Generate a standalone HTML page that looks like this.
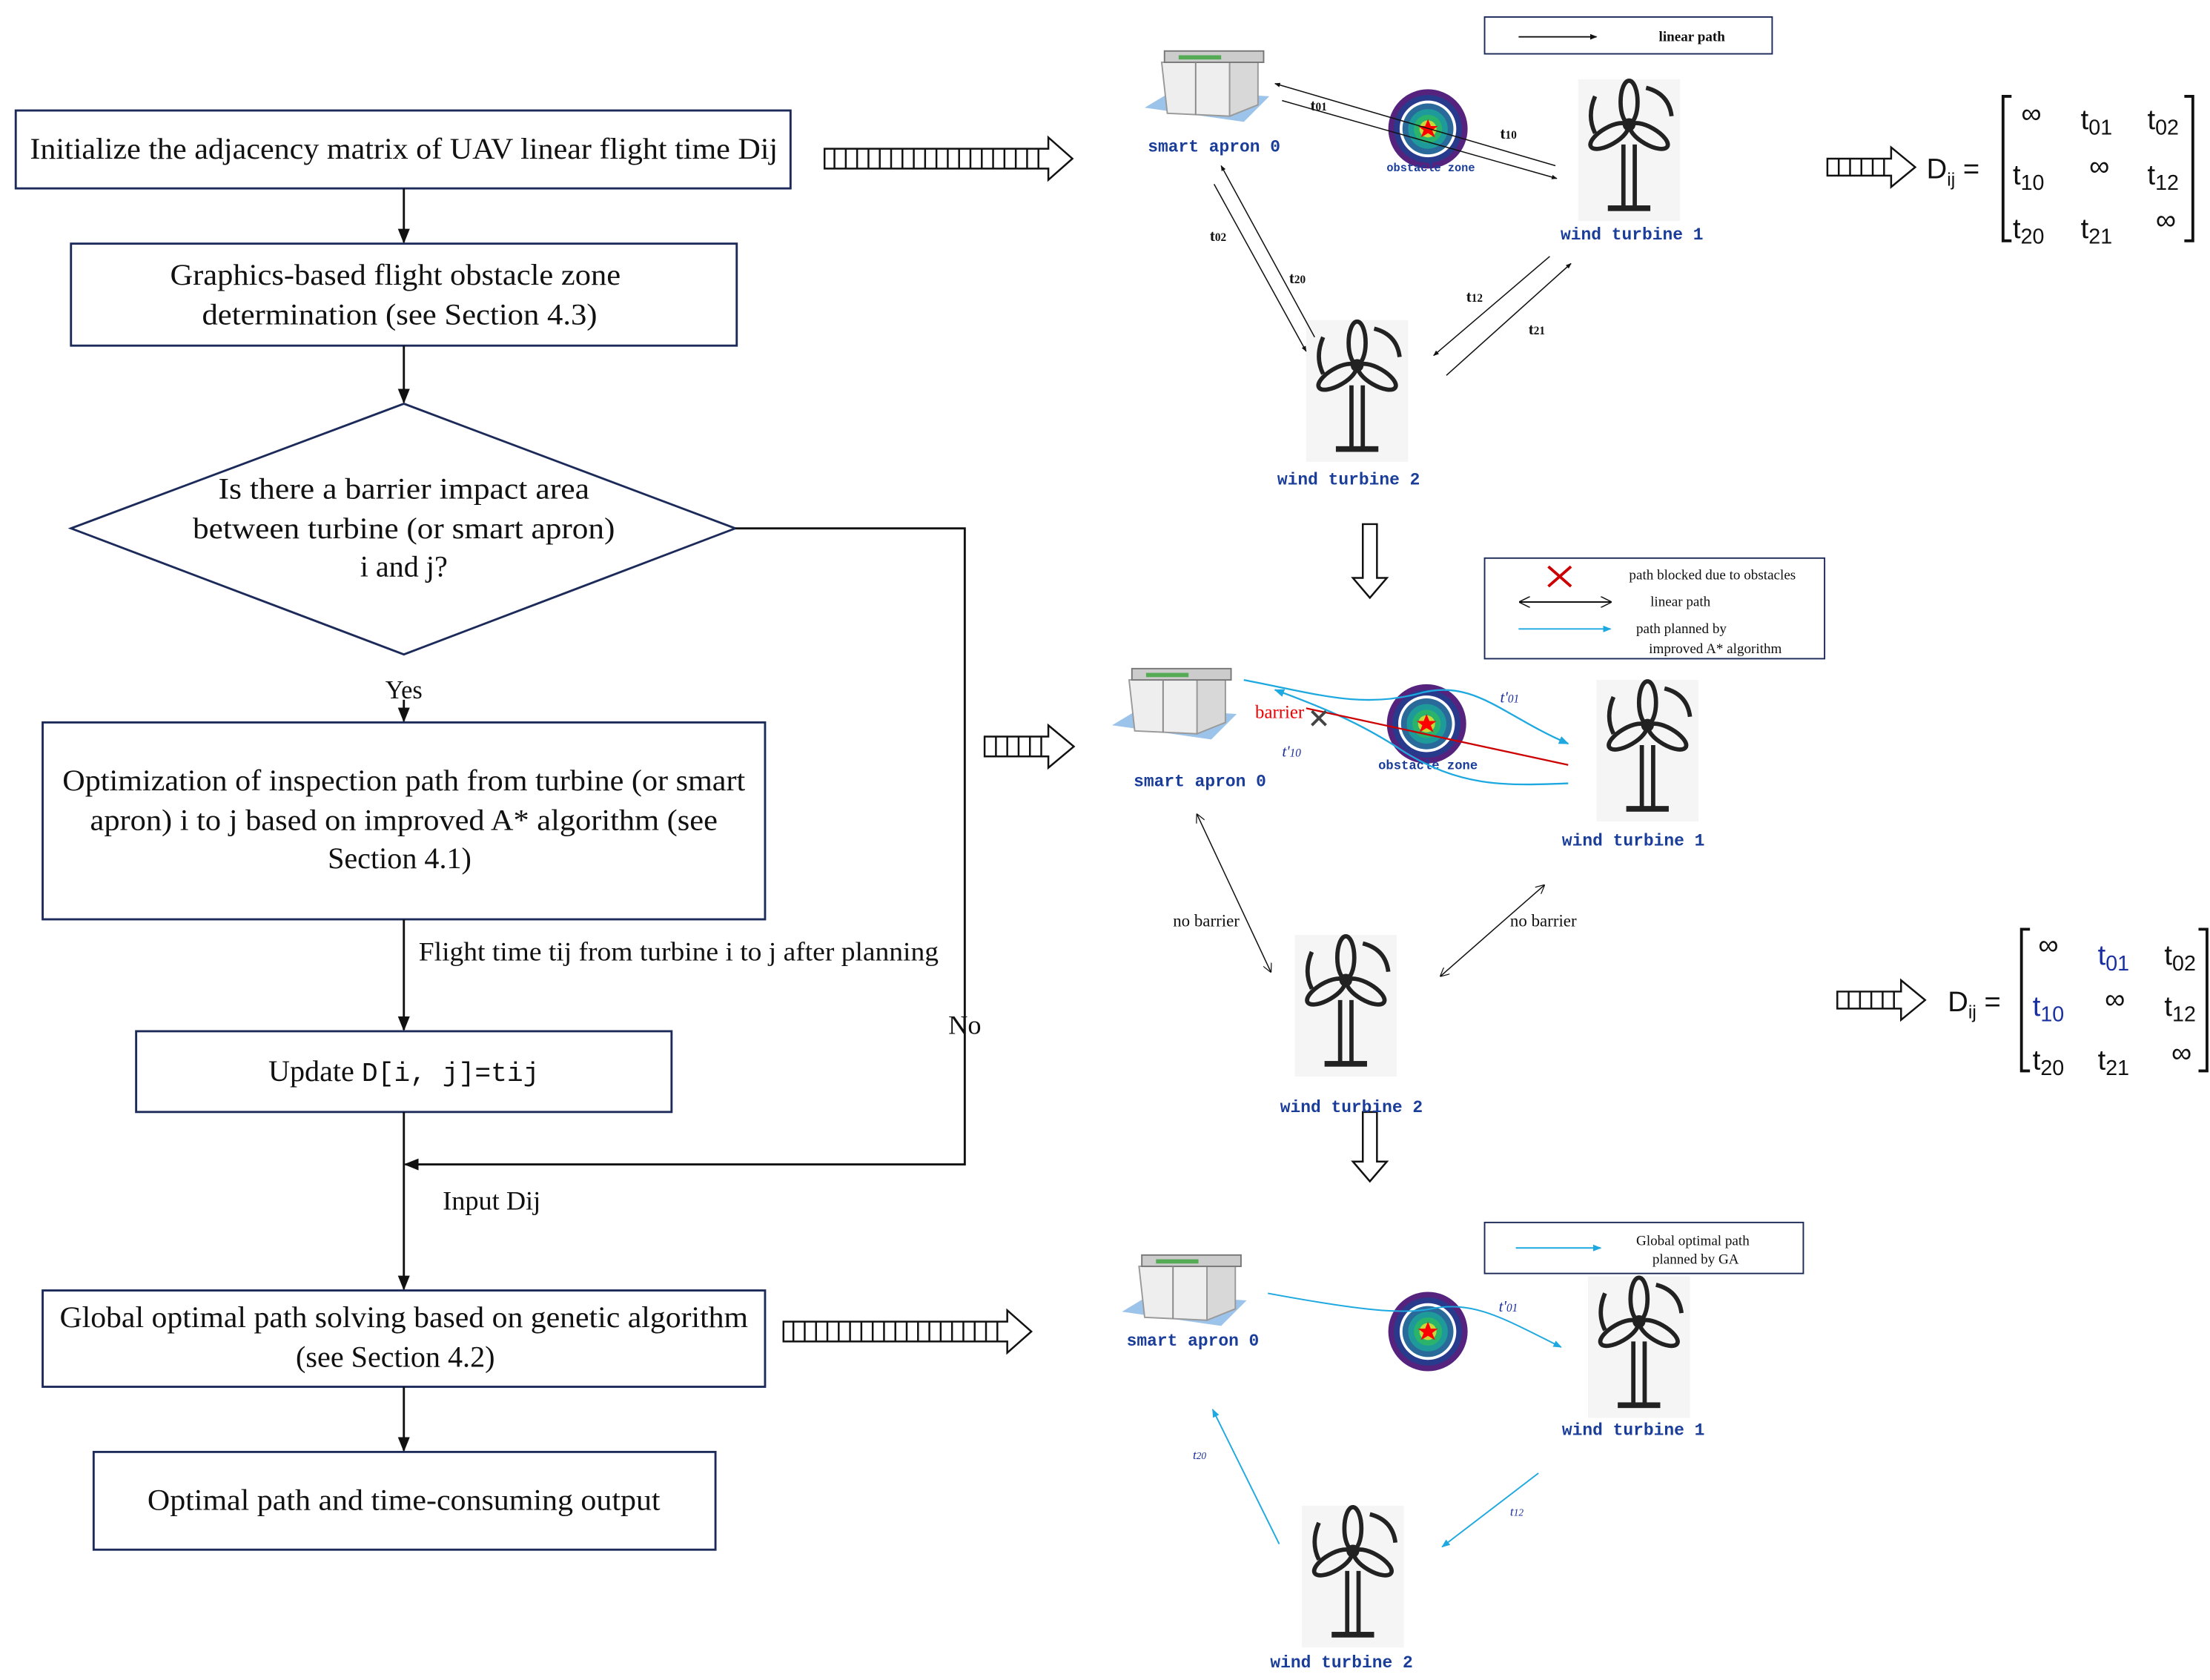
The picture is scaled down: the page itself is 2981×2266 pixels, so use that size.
<!DOCTYPE html>
<html><head><meta charset="utf-8"><style>html,body{margin:0;padding:0;background:#fff}svg{display:block}</style></head>
<body>
<svg width="2981" height="2266" viewBox="0 0 1560 1186" xmlns="http://www.w3.org/2000/svg" font-family="Liberation Serif, serif">
<defs>
<marker id="ah" viewBox="0 0 10 10" refX="9" refY="5" markerWidth="7" markerHeight="7" orient="auto-start-reverse"><path d="M0,1 L10,5 L0,9 z" fill="#111"/></marker>
<marker id="ahs" viewBox="0 0 10 10" refX="9" refY="5" markerWidth="5" markerHeight="5" orient="auto-start-reverse"><path d="M0,1 L10,5 L0,9 z" fill="#111"/></marker>
<marker id="aho" viewBox="0 0 10 10" refX="9" refY="5" markerWidth="8" markerHeight="8" orient="auto-start-reverse"><path d="M0,0 L10,5 L0,10" fill="none" stroke="#111" stroke-width="1"/></marker>
<marker id="ahc" viewBox="0 0 10 10" refX="9" refY="5" markerWidth="6" markerHeight="6" orient="auto-start-reverse"><path d="M0,1 L10,5 L0,9 z" fill="#1ea8e0"/></marker>
<g id="tb">
<rect x="-36" y="-32" width="72" height="100" fill="#f5f5f5"/>
<g fill="none" stroke="#222" stroke-width="3">
<ellipse cx="0" cy="-16" rx="6" ry="15"/>
<ellipse cx="-14" cy="8" rx="6" ry="15" transform="rotate(60 -14 8)"/>
<ellipse cx="14" cy="8" rx="6" ry="15" transform="rotate(-60 14 8)"/>
<circle cx="0" cy="0" r="3"/>
<path d="M-24,-20 Q-30,-6 -24,6"/><path d="M12,-26 Q28,-22 30,-6"/>
<path d="M-4,14 L-4,58 M4,14 L4,58"/>
</g>
<rect x="-15" y="57" width="30" height="4" fill="#222"/>
</g>
<g id="ap">
<polygon points="0,40 20,28 88,32 70,50" fill="#9cc3ea"/>
<polygon points="12,8 60,6 60,46 16,44" fill="#eee" stroke="#999" stroke-width="1"/>
<polygon points="60,6 80,4 80,38 60,46" fill="#d8d8d8" stroke="#999" stroke-width="1"/>
<rect x="14" y="0" width="70" height="8" fill="#ccc" stroke="#777" stroke-width="1"/>
<rect x="24" y="3" width="30" height="3" fill="#5a5"/>
<line x1="36" y1="8" x2="36" y2="45" stroke="#888"/>
</g>
<g id="obs">
<circle r="28" fill="#55237e"/><circle r="24" fill="#283a8c"/><circle r="20" fill="#fff"/><circle r="18" fill="#2a6a9a"/><circle r="14" fill="#1e9a9a"/><circle r="10" fill="#2ab36a"/><circle r="6" fill="#c6d83a"/>
<polygon points="0,-7 2,-2 7,-2 3,1 5,6 0,3 -5,6 -3,1 -7,-2 -2,-2" fill="#f00"/>
</g>
</defs>

<!-- Flowchart -->
<g fill="none" stroke="#1c2a5a" stroke-width="1.5">
<rect x="11" y="78" width="547" height="55"/>
<rect x="50" y="172" width="470" height="72"/>
<polygon points="285,285 519,373 285,462 50,373"/>
<rect x="30" y="510" width="510" height="139"/>
<rect x="96" y="728" width="378" height="57"/>
<rect x="30" y="911" width="510" height="68"/>
<rect x="66" y="1025" width="439" height="69"/>
</g>
<g stroke="#111" stroke-width="1.5" fill="none" marker-end="url(#ah)">
<line x1="285" y1="133" x2="285" y2="171"/>
<line x1="285" y1="244" x2="285" y2="284"/>
<line x1="285" y1="494" x2="285" y2="509"/>
<line x1="285" y1="649" x2="285" y2="727"/>
<line x1="285" y1="785" x2="285" y2="910"/>
<line x1="285" y1="979" x2="285" y2="1024"/>
<polyline points="519,373 681,373 681,822 286,822"/>
</g>
<g font-size="21" fill="#111" text-anchor="middle">
<text x="285" y="112" textLength="528" lengthAdjust="spacingAndGlyphs">Initialize the adjacency matrix of UAV linear flight time Dij</text>
<text x="279" y="201" textLength="318" lengthAdjust="spacingAndGlyphs">Graphics-based flight obstacle zone</text>
<text x="282" y="229" textLength="279" lengthAdjust="spacingAndGlyphs">determination (see Section 4.3)</text>
<text x="285" y="352" textLength="262" lengthAdjust="spacingAndGlyphs">Is there a barrier impact area</text>
<text x="285" y="380" textLength="298" lengthAdjust="spacingAndGlyphs">between turbine (or smart apron)</text>
<text x="285" y="407">i and  j?</text>
<text x="285" y="493" font-size="18">Yes</text>
<text x="285" y="558" textLength="482" lengthAdjust="spacingAndGlyphs">Optimization of inspection path from turbine (or smart</text>
<text x="285" y="586" textLength="443" lengthAdjust="spacingAndGlyphs">apron) i to j based on improved A* algorithm (see</text>
<text x="282" y="613">Section 4.1)</text>
<text x="479" y="678" font-size="19" textLength="367" lengthAdjust="spacingAndGlyphs">Flight time tij from turbine i to j after planning</text>
<text x="285" y="763">Update <tspan font-family="Liberation Mono, monospace" font-size="19">D[i, j]=tij</tspan></text>
<text x="681" y="730" font-size="19">No</text>
<text x="347" y="854" font-size="19">Input Dij</text>
<text x="285" y="937" textLength="486" lengthAdjust="spacingAndGlyphs">Global optimal path solving based on genetic algorithm</text>
<text x="279" y="965">(see Section 4.2)</text>
<text x="285" y="1066" textLength="362" lengthAdjust="spacingAndGlyphs">Optimal path and time-consuming output</text>
</g>

<!-- box-arrows -->
<g stroke="#111" stroke-width="1.3" fill="none">
<path d="M582,105 h158 v-8 l17,15 l-17,15 v-8 h-158 z"/>
<path d="M695,520 h45 v-8 l18,15 l-18,15 v-8 h-45 z"/>
<path d="M553,933 h158 v-8 l17,15 l-17,15 v-8 h-158 z"/>
<path d="M1290,112 h45 v-8 l17,14 l-17,14 v-8 h-45 z"/>
<path d="M1297,700 h45 v-8 l17,14 l-17,14 v-8 h-45 z"/>
<path d="M962,370 v38 h-7 l12,14 l12,-14 h-7 v-38 z"/>
<path d="M962,785 v35 h-7 l12,14 l12,-14 h-7 v-35 z"/>
</g>
<g stroke="#111" stroke-width="1.3">
<path d="M589,105v14M597,105v14M605,105v14M613,105v14M621,105v14M629,105v14M637,105v14M645,105v14M653,105v14M661,105v14M669,105v14M677,105v14M685,105v14M693,105v14M701,105v14M709,105v14M717,105v14M725,105v14M733,105v14"/>
<path d="M560,933v14M568,933v14M576,933v14M584,933v14M592,933v14M600,933v14M608,933v14M616,933v14M624,933v14M632,933v14M640,933v14M648,933v14M656,933v14M664,933v14M672,933v14M680,933v14M688,933v14M696,933v14M704,933v14"/>
<path d="M703,520v14M711,520v14M719,520v14M727,520v14M735,520v14"/>
<path d="M1298,112v12M1306,112v12M1314,112v12M1322,112v12M1330,112v12"/>
<path d="M1305,700v12M1313,700v12M1321,700v12M1329,700v12M1337,700v12"/>
</g>

<!-- matrices -->
<g font-family="Liberation Sans, sans-serif" fill="#111" font-size="20">
<text x="1360" y="126">D<tspan font-size="13" dy="5">ij</tspan><tspan dy="-5"> =</tspan></text>
<path d="M1420,68 h-6 v102 h6 M1542,68 h6 v102 h-6" fill="none" stroke="#111" stroke-width="2"/>
<g text-anchor="middle"><text x="1434" y="87">∞</text><text x="1480" y="91">t<tspan font-size="15" dy="4">01</tspan></text><text x="1527" y="91">t<tspan font-size="15" dy="4">02</tspan></text>
<text x="1432" y="130">t<tspan font-size="15" dy="4">10</tspan></text><text x="1482" y="124">∞</text><text x="1527" y="130">t<tspan font-size="15" dy="4">12</tspan></text>
<text x="1432" y="168">t<tspan font-size="15" dy="4">20</tspan></text><text x="1480" y="168">t<tspan font-size="15" dy="4">21</tspan></text><text x="1529" y="162">∞</text></g>
<text x="1375" y="714">D<tspan font-size="13" dy="5">ij</tspan><tspan dy="-5"> =</tspan></text>
<path d="M1433,656 h-6 v100 h6 M1552,656 h6 v100 h-6" fill="none" stroke="#111" stroke-width="2"/>
<g text-anchor="middle"><text x="1446" y="674">∞</text><text x="1492" y="681" fill="#1a2fa0">t<tspan font-size="15" dy="4">01</tspan></text><text x="1539" y="681">t<tspan font-size="15" dy="4">02</tspan></text>
<text x="1446" y="717" fill="#1a2fa0">t<tspan font-size="15" dy="4">10</tspan></text><text x="1493" y="712">∞</text><text x="1539" y="717">t<tspan font-size="15" dy="4">12</tspan></text>
<text x="1446" y="755">t<tspan font-size="15" dy="4">20</tspan></text><text x="1492" y="755">t<tspan font-size="15" dy="4">21</tspan></text><text x="1540" y="750">∞</text></g>
</g>

<!-- legends -->
<g fill="none" stroke="#1c2a5a" stroke-width="1"><rect x="1048" y="12" width="203" height="26"/><rect x="1048" y="394" width="240" height="71"/><rect x="1048" y="863" width="225" height="36"/></g>
<g font-size="10" fill="#111" font-weight="bold">
<line x1="1072" y1="26" x2="1127" y2="26" stroke="#111" marker-end="url(#ahs)"/>
<text x="1171" y="29">linear path</text>
<path d="M1093,400 l16,14 M1109,400 l-16,14" stroke="#c00" stroke-width="2"/>
<text x="1150" y="409" font-weight="normal">path blocked due to obstacles</text>
<line x1="1073" y1="425" x2="1137" y2="425" stroke="#111" marker-end="url(#aho)" marker-start="url(#aho)"/>
<text x="1165" y="428" font-weight="normal">linear path</text>
<line x1="1072" y1="444" x2="1137" y2="444" stroke="#1ea8e0" marker-end="url(#ahc)"/>
<text x="1155" y="447" font-weight="normal">path planned by</text>
<text x="1164" y="461" font-weight="normal">improved A* algorithm</text>
<line x1="1070" y1="881" x2="1130" y2="881" stroke="#1ea8e0" marker-end="url(#ahc)"/>
<text x="1195" y="879" text-anchor="middle" font-weight="normal">Global optimal path</text>
<text x="1197" y="892" text-anchor="middle" font-weight="normal">planned by GA</text>
</g>

<!-- icons -->
<use href="#ap" x="808" y="36"/><use href="#ap" x="785" y="472"/><use href="#ap" x="792" y="886"/>
<use href="#tb" x="1150" y="88"/><use href="#tb" x="958" y="258"/>
<use href="#tb" x="1163" y="512"/><use href="#tb" x="950" y="692"/>
<use href="#tb" x="1157" y="933"/><use href="#tb" x="955" y="1095"/>
<use href="#obs" x="1008" y="91"/><use href="#obs" x="1007" y="511"/><use href="#obs" x="1008" y="940"/>

<!-- node labels -->
<g font-family="Liberation Mono, monospace" font-size="12" fill="#1a3d9a" text-anchor="middle" font-weight="bold">
<text x="857" y="107">smart apron 0</text><text x="1152" y="169">wind turbine 1</text><text x="952" y="342">wind turbine 2</text>
<text x="847" y="555">smart apron 0</text><text x="1153" y="597">wind turbine 1</text><text x="954" y="785">wind turbine 2</text>
<text x="842" y="950">smart apron 0</text><text x="1153" y="1013">wind turbine 1</text><text x="947" y="1177">wind turbine 2</text>
<text x="1010" y="121" font-size="8">obstacle zone</text><text x="1008" y="543" font-size="9">obstacle zone</text>
</g>

<!-- top connectors -->
<g stroke="#111" stroke-width="0.8" fill="none" marker-end="url(#ahs)">
<line x1="1098" y1="117" x2="900" y2="59"/>
<line x1="905" y1="71" x2="1099" y2="126"/>
<line x1="857" y1="130" x2="922" y2="248"/>
<line x1="928" y1="238" x2="862" y2="117"/>
<line x1="1094" y1="181" x2="1012" y2="251"/>
<line x1="1021" y1="265" x2="1109" y2="186"/>
</g>
<g font-size="11" fill="#111" font-weight="bold">
<text x="925" y="78">t<tspan font-size="8">01</tspan></text><text x="1059" y="98">t<tspan font-size="8">10</tspan></text>
<text x="854" y="170">t<tspan font-size="8">02</tspan></text><text x="910" y="200">t<tspan font-size="8">20</tspan></text>
<text x="1035" y="213">t<tspan font-size="8">12</tspan></text><text x="1079" y="236">t<tspan font-size="8">21</tspan></text>
</g>

<!-- middle connectors -->
<g stroke="#1ea8e0" stroke-width="1.2" fill="none" marker-end="url(#ahc)">
<path d="M878,480 C930,490 960,500 1000,490 C1040,478 1060,505 1107,525"/>
<path d="M1107,553 C1060,555 1030,555 990,530 C960,510 930,498 900,487"/>
</g>
<line x1="922" y1="500" x2="1107" y2="540" stroke="#c00" stroke-width="1.2"/>
<path d="M926,502 l10,10 M936,502 l-10,10" stroke="#444" stroke-width="2"/>
<text x="886" y="507" font-size="13" fill="#e00">barrier</text>
<g font-size="11" fill="#1a2fa0" font-style="italic"><text x="1059" y="496">t'<tspan font-size="8">01</tspan></text><text x="905" y="534">t'<tspan font-size="8">10</tspan></text>
<text x="1058" y="926">t'<tspan font-size="8">01</tspan></text><text x="842" y="1030" font-size="9">t<tspan font-size="7">20</tspan></text><text x="1066" y="1070" font-size="9">t<tspan font-size="7">12</tspan></text></g>
<g stroke="#111" stroke-width="0.8" fill="none" marker-end="url(#aho)" marker-start="url(#aho)">
<line x1="845" y1="575" x2="897" y2="686"/>
<line x1="1090" y1="625" x2="1017" y2="689"/>
</g>
<g font-size="12" fill="#111"><text x="828" y="654">no barrier</text><text x="1066" y="654">no barrier</text></g>

<!-- bottom connectors -->
<g stroke="#1ea8e0" stroke-width="1" fill="none" marker-end="url(#ahc)">
<path d="M895,913 C960,925 990,928 1010,924 C1040,918 1060,930 1102,951"/>
<line x1="903" y1="1090" x2="856" y2="995"/>
<line x1="1086" y1="1040" x2="1018" y2="1092"/>
</g>
</svg>
</body></html>
